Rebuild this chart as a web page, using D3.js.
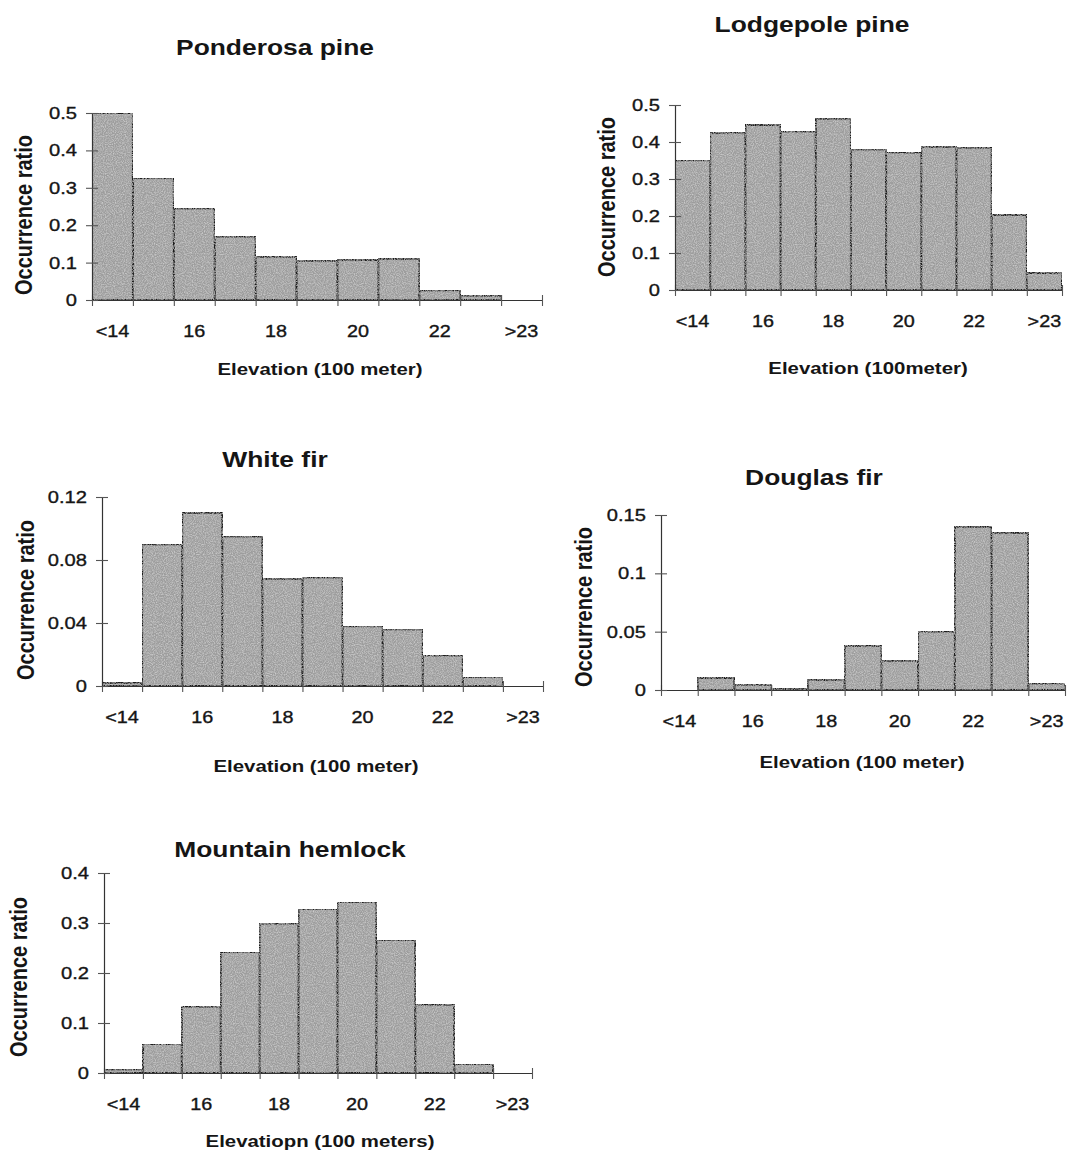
<!DOCTYPE html>
<html>
<head>
<meta charset="utf-8">
<script src="https://cdn.jsdelivr.net/npm/d3@7"></script>
<style>
  html, body { margin: 0; padding: 0; background: #ffffff; }
  svg { display: block; }
  text { font-family: Arial, "Liberation Sans", sans-serif; fill: #151515; }
</style>
</head>
<body>
<svg id="chart" width="1068" height="1154"></svg>
<script>
// ---------- data ----------
const categories = ["<14", "15", "16", "17", "18", "19", "20", "21", "22", "23", ">23"];
const xTickLabels = ["<14", "16", "18", "20", "22", ">23"];

const ponderosa       = [0.500, 0.326, 0.245, 0.170, 0.116, 0.105, 0.107, 0.110, 0.026, 0.012, 0.000];
const lodgepole       = [0.351, 0.425, 0.446, 0.429, 0.463, 0.380, 0.372, 0.387, 0.385, 0.203, 0.046];
const whiteFir        = [0.002, 0.090, 0.110, 0.095, 0.068, 0.069, 0.038, 0.036, 0.0195, 0.0057, 0.000];
const douglasFir      = [0.000, 0.0103, 0.0046, 0.0017, 0.0086, 0.0379, 0.0252, 0.0502, 0.140, 0.1348, 0.0057];
const mountainHemlock = [0.0073, 0.058, 0.133, 0.242, 0.299, 0.328, 0.342, 0.266, 0.137, 0.018, 0.000];

const ticksPonderosa = [0, 0.1, 0.2, 0.3, 0.4, 0.5];
const ticksLodgepole = [0, 0.1, 0.2, 0.3, 0.4, 0.5];
const ticksWhiteFir  = [0, 0.04, 0.08, 0.12];
const ticksDouglas   = [0, 0.05, 0.1, 0.15];
const ticksHemlock   = [0, 0.1, 0.2, 0.3, 0.4];

const titles = ["Ponderosa pine", "Lodgepole pine", "White fir", "Douglas fir", "Mountain hemlock"];
const xTitles = ["Elevation (100 meter)", "Elevation (100meter)", "Elevation (100 meter)", "Elevation (100 meter)", "Elevatiopn (100 meters)"];
const yTitle = "Occurrence ratio";

// ---------- layout ----------
const panels = [
  { title: titles[0], xTitle: xTitles[0], values: ponderosa, ticks: ticksPonderosa,
    x0: 92, x1: 542, yTop: 113, yBot: 300, yMax: 0.5,
    titleX: 275, titleY: 55, xTitleX: 320, xTitleY: 375, yTitleX: 25, yTitleY: 215 },
  { title: titles[1], xTitle: xTitles[1], values: lodgepole, ticks: ticksLodgepole,
    x0: 675, x1: 1062, yTop: 105, yBot: 290, yMax: 0.5,
    titleX: 812, titleY: 32, xTitleX: 868, xTitleY: 374, yTitleX: 608, yTitleY: 197 },
  { title: titles[2], xTitle: xTitles[2], values: whiteFir, ticks: ticksWhiteFir,
    x0: 102, x1: 543, yTop: 497, yBot: 686, yMax: 0.12,
    titleX: 275, titleY: 467, xTitleX: 316, xTitleY: 772, yTitleX: 27, yTitleY: 600 },
  { title: titles[3], xTitle: xTitles[3], values: douglasFir, ticks: ticksDouglas,
    x0: 661, x1: 1065, yTop: 515, yBot: 690, yMax: 0.15,
    titleX: 814, titleY: 485, xTitleX: 862, xTitleY: 768, yTitleX: 585, yTitleY: 607 },
  { title: titles[4], xTitle: xTitles[4], values: mountainHemlock, ticks: ticksHemlock,
    x0: 104, x1: 532, yTop: 873, yBot: 1073, yMax: 0.4,
    titleX: 290, titleY: 857, xTitleX: 320, xTitleY: 1147, yTitleX: 20, yTitleY: 977 }
];

const SX = 1.2; // the scanned figure's type is stretched horizontally

const svg = d3.select("#chart");

// speckle texture for the bars
const defs = svg.append("defs");
const filt = defs.append("filter").attr("id", "grain").attr("x", 0).attr("y", 0).attr("width", 1).attr("height", 1);
filt.append("feTurbulence").attr("type", "fractalNoise").attr("baseFrequency", 0.9).attr("numOctaves", 2).attr("seed", 3).attr("result", "noise");
filt.append("feColorMatrix").attr("in", "noise").attr("type", "matrix")
  .attr("values", "0 0 0 0 0  0 0 0 0 0  0 0 0 0 0  0 0 0 -1.6 1.0").attr("result", "mask");
filt.append("feFlood").attr("flood-color", "#d4d4d4").attr("result", "light");
filt.append("feComposite").attr("in", "light").attr("in2", "mask").attr("operator", "in").attr("result", "spots");
filt.append("feComposite").attr("in", "spots").attr("in2", "SourceGraphic").attr("operator", "atop").attr("result", "sp2");
filt.append("feMerge").call(m => { m.append("feMergeNode").attr("in", "SourceGraphic"); m.append("feMergeNode").attr("in", "sp2"); });

function stretchedText(g, x, y, str, size, weight, anchor) {
  return g.append("text")
    .attr("transform", `translate(${x},${y}) scale(${SX},1)`)
    .attr("text-anchor", anchor)
    .attr("font-size", size)
    .attr("font-weight", weight)
    .text(str);
}

panels.forEach(p => {
  const g = svg.append("g");
  const x = d3.scaleBand().domain(categories).range([p.x0, p.x1]).padding(0);
  const xEdge = d3.scaleLinear().domain([0, categories.length]).range([p.x0, p.x1]);
  const y = d3.scaleLinear().domain([0, p.yMax]).range([p.yBot, p.yTop]);

  // bars
  g.append("g").selectAll("rect")
    .data(p.values.map((v, i) => ({ c: categories[i], v })).filter(d => d.v > 0))
    .join("rect")
    .attr("x", d => x(d.c))
    .attr("y", d => y(d.v))
    .attr("width", x.bandwidth())
    .attr("height", d => p.yBot - y(d.v))
    .attr("fill", "#9d9d9d")
    .attr("filter", "url(#grain)")
    .attr("stroke", "#1a1a1a")
    .attr("stroke-width", 2);

  // x axis (ticks at bin edges, crossing the axis)
  const xAxis = g.append("g").attr("transform", `translate(0,${p.yBot})`)
    .call(d3.axisBottom(xEdge).tickValues(d3.range(categories.length + 1)).tickFormat("").tickSizeInner(6).tickSizeOuter(0));
  xAxis.select(".domain").attr("stroke", "#333").attr("stroke-width", 1.2);
  xAxis.selectAll(".tick line").attr("y1", -5).attr("stroke", "#555").attr("stroke-width", 1.1);

  // x tick labels (every other bin)
  xTickLabels.forEach(lbl => {
    stretchedText(g, x(lbl) + x.bandwidth() / 2, p.yBot + 37, lbl, 16.5, "normal", "middle")
      .attr("stroke", "#151515").attr("stroke-width", 0.35);
  });

  // y axis
  const yAxis = g.append("g").attr("transform", `translate(${p.x0},0)`)
    .call(d3.axisLeft(y).tickValues(p.ticks).tickFormat("").tickSizeInner(6).tickSizeOuter(0));
  yAxis.select(".domain").attr("stroke", "#333").attr("stroke-width", 1.2);
  yAxis.selectAll(".tick line").attr("x1", 6).attr("stroke", "#555").attr("stroke-width", 1.1);
  const fmt = d3.format("~g");
  p.ticks.forEach(t => {
    stretchedText(g, p.x0 - 15, y(t), fmt(t), 16.8, "normal", "end")
      .attr("dy", "0.36em").attr("stroke", "#151515").attr("stroke-width", 0.35);
  });

  // titles
  stretchedText(g, p.titleX, p.titleY, p.title, 22, "bold", "middle");
  stretchedText(g, p.xTitleX, p.xTitleY, p.xTitle, 17, "bold", "middle");
  g.append("text")
    .attr("transform", `translate(${p.yTitleX + 7},${p.yTitleY}) rotate(-90) scale(1,${SX})`)
    .attr("text-anchor", "middle").attr("font-size", 20).attr("font-weight", "bold").text(yTitle);
});
</script>
</body>
</html>
